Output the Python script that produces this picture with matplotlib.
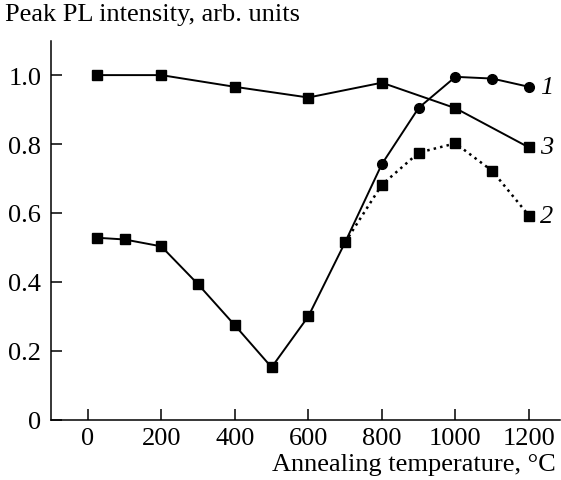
import matplotlib
matplotlib.use("Agg")
import matplotlib.pyplot as plt

plt.rcParams["font.family"] = ["Liberation Serif", "DejaVu Serif"]

# ── data ──────────────────────────────────────────────────────────────────────
# common part (curves 1 and 2 coincide up to 700 °C)
T_common = [25, 100, 200, 300, 400, 500, 600, 700]
I_common = [0.528, 0.523, 0.503, 0.393, 0.274, 0.152, 0.300, 0.515]

# curve 1 (circles) above 700 °C
T_1 = [800, 900, 1000, 1100, 1200]
I_1 = [0.742, 0.905, 0.995, 0.990, 0.966]

# curve 2 (dotted, squares) above 700 °C
T_2 = [800, 900, 1000, 1100, 1200]
I_2 = [0.682, 0.775, 0.802, 0.722, 0.592]

# curve 3
T_3 = [25, 200, 400, 600, 800, 1000, 1200]
I_3 = [1.0, 1.0, 0.966, 0.935, 0.978, 0.904, 0.790]

curve_labels = ["1", "2", "3"]
x_ticks = [0, 200, 400, 600, 800, 1000, 1200]
y_ticks = [0, 0.2, 0.4, 0.6, 0.8, 1.0]
y_ticklabels = ["0", "0.2", "0.4", "0.6", "0.8", "1.0"]

# ── plot ─────────────────────────────────────────────────────────────────────
fig = plt.figure(figsize=(5.61, 4.81), dpi=100)
ax = fig.add_axes([0.0909, 0.1254, 0.9071, 0.788])

lw = 1.4
sq = dict(marker="s", markersize=7, color="black")
ci = dict(marker="o", markersize=7, color="black")

ax.plot(T_3, I_3, "-", lw=lw, **sq)
ax.plot([T_common[-1]] + T_2, [I_common[-1]] + I_2, ":", lw=lw + 0.4,
        color="black")
ax.plot(T_2, I_2, linestyle="none", **sq)
ax.plot([T_common[-1]] + T_1, [I_common[-1]] + I_1, "-", lw=lw,
        color="black")
ax.plot(T_1, I_1, linestyle="none", **ci)
ax.plot(T_common, I_common, "-", lw=lw, **sq)

# curve numbers at the right end
ends = {"1": I_1[-1], "2": I_2[-1], "3": I_3[-1]}
for lab in curve_labels:
    ax.text(T_1[-1] + 30, ends[lab], lab, fontsize=19, style="italic",
            va="center", ha="left")

ax.set_xlim(-100, 1284)
ax.set_ylim(0, 1.1)
ax.set_xticks(x_ticks)
ax.set_yticks(y_ticks)
ax.set_yticklabels(y_ticklabels)

for s in ("top", "right"):
    ax.spines[s].set_visible(False)
for s in ("left", "bottom"):
    ax.spines[s].set_linewidth(1.1)

ax.tick_params(direction="in", length=8, width=1.1, labelsize=19, pad=5)
ax.tick_params(axis="y", pad=7)

fig.text(0.009, 0.969, "Peak PL intensity, arb. units", fontsize=19,
         ha="left", va="center")
fig.text(0.99, 0.033, "Annealing temperature, °C", fontsize=19,
         ha="right", va="center")

fig.savefig("out.png", dpi=100)
